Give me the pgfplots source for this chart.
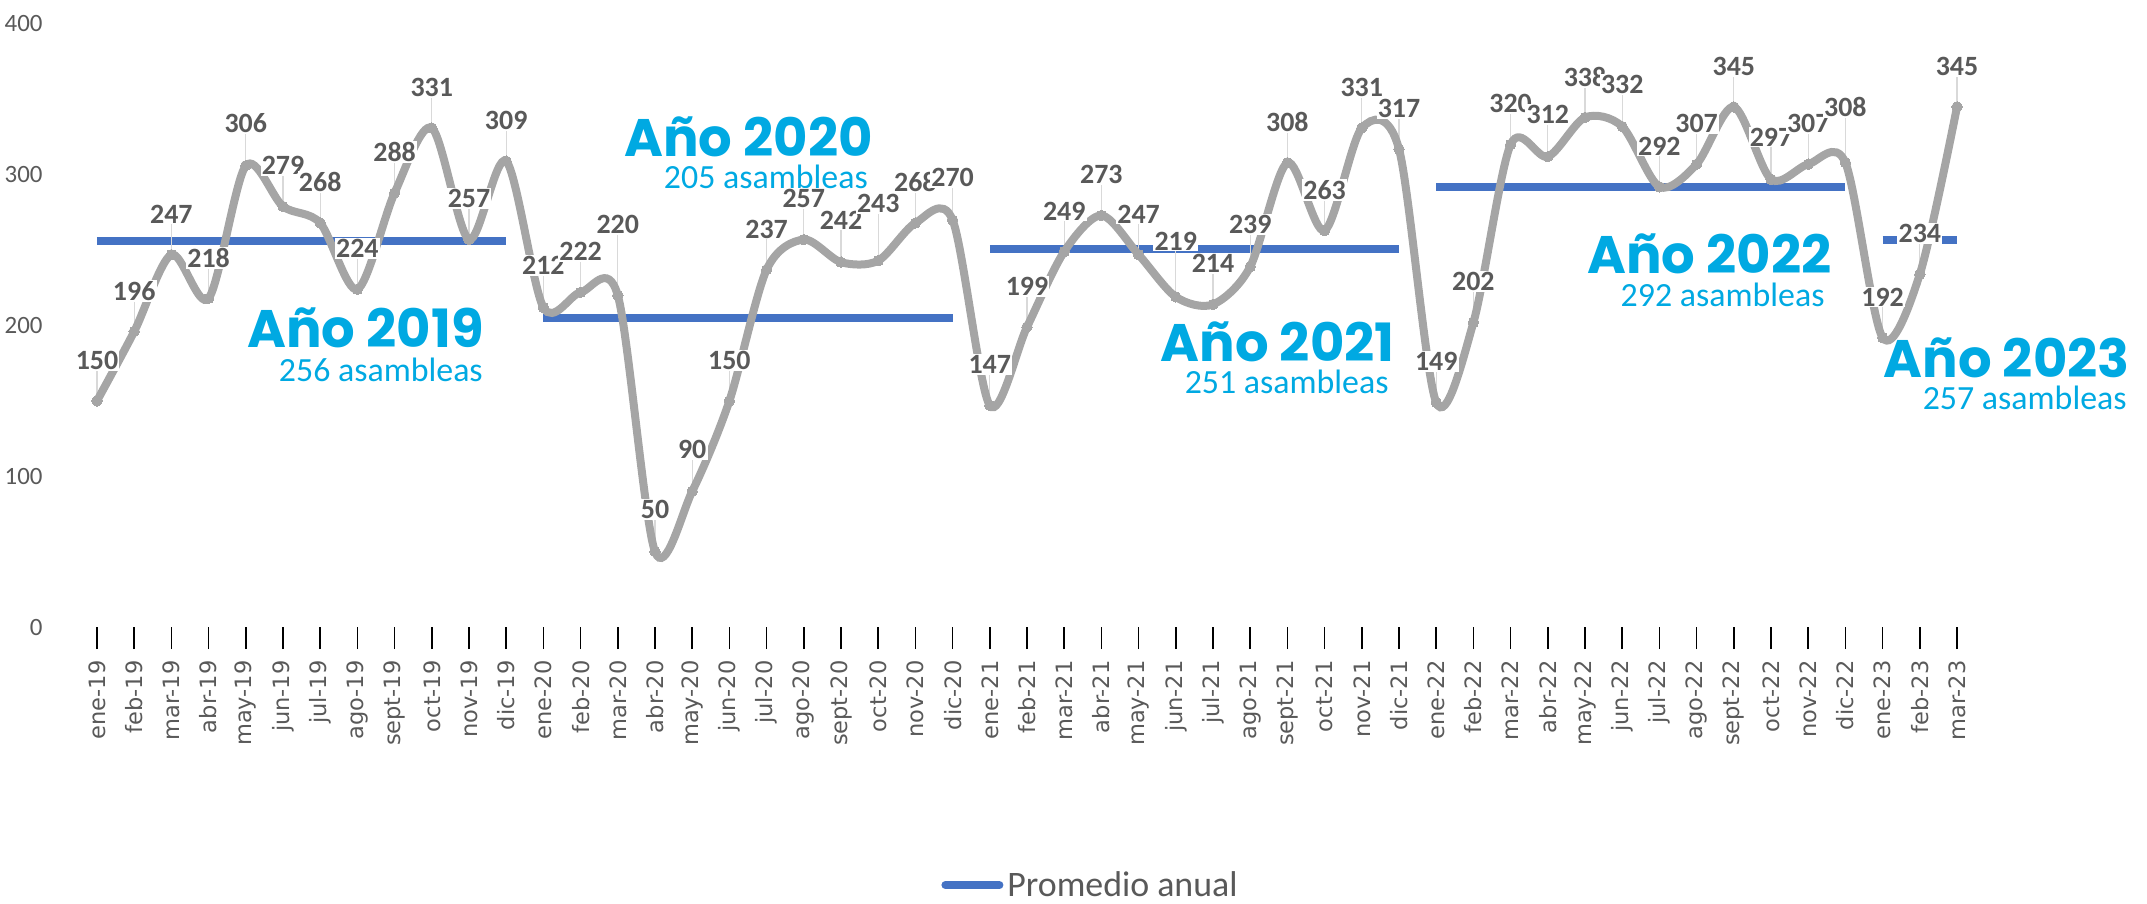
\documentclass[border=0pt]{standalone}
\usepackage{fontspec}
\setmainfont{Carlito}
\newfontfamily\popfont{Poppins}
\newfontfamily\dejavu{DejaVu Sans}
\usepackage{pgfplots}
\usepackage{pgfplotstable}
\pgfplotsset{compat=1.18}
\definecolor{cgray}{HTML}{A5A5A5}
\definecolor{cblue}{HTML}{4472C4}
\definecolor{ctext}{HTML}{595959}
\definecolor{ccyan}{HTML}{00A9E2}
\definecolor{clead}{HTML}{D9D9D9}

\pgfplotstableread{
idx val laby
0 150 177
1 196 223
2 247 274
3 218 245
4 306 334
5 279 306
6 268 295
7 224 251
8 288 315
9 331 358
10 257 284
11 309 336
12 212 240
13 222 249
14 220 267
15 50 78
16 90 118
17 150 177
18 237 264
19 257 284
20 242 270
21 243 281
22 268 295
23 270 298
24 147 174
25 199 226
26 249 276
27 273 300
28 247 274
29 219 256
30 214 241
31 239 267
32 308 335
33 263 290
34 331 358
35 317 344
36 149 176
37 202 229
38 320 347
39 312 340
40 338 365
41 332 360
42 292 319
43 307 334
44 345 372
45 297 325
46 307 334
47 308 345
48 192 219
49 234 261
50 345 372
}\datatab

\begin{document}
\begin{tikzpicture}
\path[use as bounding box] (-39.2bp,-138.5bp) rectangle (1034.3bp,313.5bp);
\begin{axis}[
  at={(0,0)}, anchor=south west, scale only axis,
  width=948.6bp, height=301.5bp,
  xmin=-0.5, xmax=50.5, ymin=0, ymax=400,
  clip=false,
  axis line style={draw=none},
  xtick={0,...,50},
  xticklabels={ene-19,feb-19,mar-19,abr-19,may-19,jun-19,jul-19,ago-19,sept-19,oct-19,nov-19,dic-19,
    ene-20,feb-20,mar-20,abr-20,may-20,jun-20,jul-20,ago-20,sept-20,oct-20,nov-20,dic-20,
    ene-21,feb-21,mar-21,abr-21,may-21,jun-21,jul-21,ago-21,sept-21,oct-21,nov-21,dic-21,
    ene-22,feb-22,mar-22,abr-22,may-22,jun-22,jul-22,ago-22,sept-22,oct-22,nov-22,dic-22,
    ene-23,feb-23,mar-23},
  xtick pos=left, tick align=outside,
  major tick length=11bp,
  xtick style={draw=black, line width=0.8bp},
  ytick={0,100,...,400},
  ytick pos=left,
  ytick style={draw=none},
  /pgf/number format/assume math mode=true,
  yticklabel style={font=\fontsize{12.5}{12.5}\selectfont, text=ctext, anchor=east, inner sep=0pt, xshift=-6.7bp},
  xticklabel style={font=\dejavu\fontsize{11.3}{11.3}\selectfont, text=ctext, yshift=-5.5bp, rotate=90, anchor=east, inner sep=0pt},
  legend style={draw=none, fill=none, at={(0.534,-0.428)}, anchor=center,
    font=\fontsize{18}{18}\selectfont, text=ctext},
]
% annual averages
\addplot[cblue, line width=4bp, mark=none,
  legend image code/.code={\draw[line width=4bp, line cap=round, cblue] (0bp,0bp) -- (27bp,0bp);}]
  coordinates {(0,256) (11,256)};
\addlegendentry{Promedio anual}
\addplot[cblue, line width=4bp, mark=none, forget plot] coordinates {(12,205) (23,205)};
\addplot[cblue, line width=4bp, mark=none, forget plot] coordinates {(24,251) (35,251)};
\addplot[cblue, line width=4bp, mark=none, forget plot] coordinates {(36,292) (47,292)};
\addplot[cblue, line width=4bp, mark=none, forget plot] coordinates {(48,257) (50,257)};
% leader lines
\addplot[draw=none, mark=none, forget plot,
  error bars/.cd, y dir=plus, y explicit, error mark=none,
  error bar style={draw=clead, line width=0.6bp}]
  table[x=idx, y=val, y error expr=\thisrow{laby}-\thisrow{val}] {\datatab};
% monthly series
\addplot[cgray, line width=4bp, smooth, mark=*, mark size=2.6bp,
  mark options={fill=cgray, draw=cgray, line width=0pt}, forget plot]
  table[x=idx, y=val] {\datatab};
% data labels
\addplot[draw=none, mark=none, forget plot, nodes near coords,
  point meta=explicit symbolic,
  nodes near coords style={anchor=center, font=\bfseries\fontsize{14}{14}\selectfont,
    text=ctext, fill=white, inner sep=0.6bp}]
  table[x=idx, y=laby, meta=val] {\datatab};
% year annotations
\tikzset{yt/.style={anchor=east, inner sep=0pt, text=ccyan, font=\popfont\bfseries\fontsize{26.5}{26.5}\selectfont},
         ys/.style={anchor=east, inner sep=0pt, text=ccyan, font=\fontsize{17}{17}\selectfont}}
\node[yt] at (axis cs:10.40,198.3) {Año 2019};
\node[ys] at (axis cs:10.38,170.5) {256 asambleas};
\node[yt] at (axis cs:20.86,325) {Año 2020};
\node[ys] at (axis cs:20.73,298.5) {205 asambleas};
\node[yt] at (axis cs:34.89,189) {Año 2021};
\node[ys] at (axis cs:34.73,162.5) {251 asambleas};
\node[yt] at (axis cs:46.64,247.4) {Año 2022};
\node[ys] at (axis cs:46.45,220) {292 asambleas};
\node[yt] at (axis cs:54.65,178.4) {Año 2023};
\node[ys] at (axis cs:54.57,152) {257 asambleas};
\end{axis}
\end{tikzpicture}
\end{document}
